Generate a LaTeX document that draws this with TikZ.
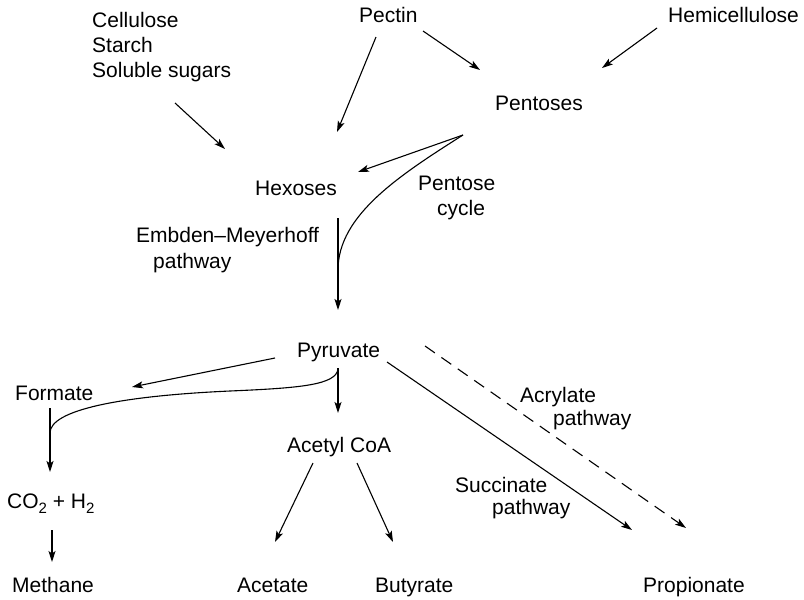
\documentclass[tikz,border=0pt]{standalone}
\usepackage{fontspec}
\setmainfont{Liberation Sans}
\usetikzlibrary{arrows.meta}
\newcommand{\mysub}[1]{\raisebox{-5pt}{\fontsize{15}{15}\selectfont #1}}
\begin{document}
\begin{tikzpicture}[x=1pt,y=-1pt,
  lbl/.style={inner sep=0pt,anchor=base west,font=\fontsize{21}{25}\selectfont},
  arr/.style={line width=1.1pt,-{Stealth[length=11pt,width=7pt,inset=2.5pt]}},
  dasharr/.style={arr,dash pattern=on 12pt off 8pt}]
\useasboundingbox (0,0) rectangle (804,600);
% texts
\node[lbl] (cell) at (92,27) {Cellulose};
\node[lbl] (starch) at (92,52) {Starch};
\node[lbl] (sugars) at (92,77) {Soluble sugars};
\node[lbl] (pectin) at (359,22) {Pectin};
\node[lbl] (hemi) at (668,22) {Hemicellulose};
\node[lbl] (pentoses) at (495,110) {Pentoses};
\node[lbl] (hexoses) at (255,195) {Hexoses};
\node[lbl] (pc1) at (418,190) {Pentose};
\node[lbl] (pc2) at (437,215) {cycle};
\node[lbl] (em1) at (136,242) {Embden–Meyerhoff};
\node[lbl] (em2) at (153,268) {pathway};
\node[lbl] (pyruvate) at (297,357) {Pyruvate};
\node[lbl] (formate) at (15,400) {Formate};
\node[lbl] (acetyl) at (287,452) {Acetyl CoA};
\node[lbl] (acr1) at (520,402) {Acrylate};
\node[lbl] (acr2) at (553,425) {pathway};
\node[lbl] (suc1) at (455,492) {Succinate};
\node[lbl] (suc2) at (492,514) {pathway};
\node[lbl] (co2) at (7,508) {CO\mysub{2} + H\mysub{2}};
\node[lbl] (methane) at (12,592) {Methane};
\node[lbl] (acetate) at (237,592) {Acetate};
\node[lbl] (butyrate) at (375,592) {Butyrate};
\node[lbl] (propionate) at (643,592) {Propionate};
% connectors
\draw[arr] ([shift={(83,26)}]sugars.base west) -- ([shift={(-30,-46)}]hexoses.base west);
\draw[arr] ([shift={(17,15)}]pectin.base west) -- ([shift={(82,-63)}]hexoses.base west);
\draw[arr] ([shift={(64,9)}]pectin.base west) -- ([shift={(-15,-40)}]pentoses.base west);
\draw[arr] ([shift={(-11,6)}]hemi.base west) -- ([shift={(107,-42)}]pentoses.base west);
\draw[arr] ([shift={(-32,25)}]pentoses.base west) -- ([shift={(103,-23)}]hexoses.base west);
\draw[line width=1.1pt] ([shift={(-32,25)}]pentoses.base west) .. controls (400,175) and (338,215) .. ([shift={(41,-87)}]pyruvate.base west);
\draw[arr] ([shift={(83,23)}]hexoses.base west) -- ([shift={(41,-47)}]pyruvate.base west);
\draw[arr] ([shift={(-22,1)}]pyruvate.base west) -- ([shift={(117,-13)}]formate.base west);
\draw[arr] ([shift={(41,11)}]pyruvate.base west) -- ([shift={(51,-39)}]acetyl.base west);
\draw[line width=1.1pt] ([shift={(41,12)}]pyruvate.base west) .. controls (336,385) and (300,388) .. (230,391) .. controls (120,396) and (50,410) .. ([shift={(35,33)}]formate.base west);
\draw[arr] ([shift={(35,8)}]formate.base west) -- ([shift={(43,-36)}]co2.base west);
\draw[arr] ([shift={(45,22)}]co2.base west) -- ([shift={(40,-30)}]methane.base west);
\draw[arr] ([shift={(26,11)}]acetyl.base west) -- ([shift={(38,-50)}]acetate.base west);
\draw[arr] ([shift={(70,11)}]acetyl.base west) -- ([shift={(18,-50)}]butyrate.base west);
\draw[arr] ([shift={(90,5)}]pyruvate.base west) -- ([shift={(-11,-62)}]propionate.base west);
\draw[dasharr] ([shift={(128,-11)}]pyruvate.base west) -- ([shift={(43,-64)}]propionate.base west);
\end{tikzpicture}
\end{document}
